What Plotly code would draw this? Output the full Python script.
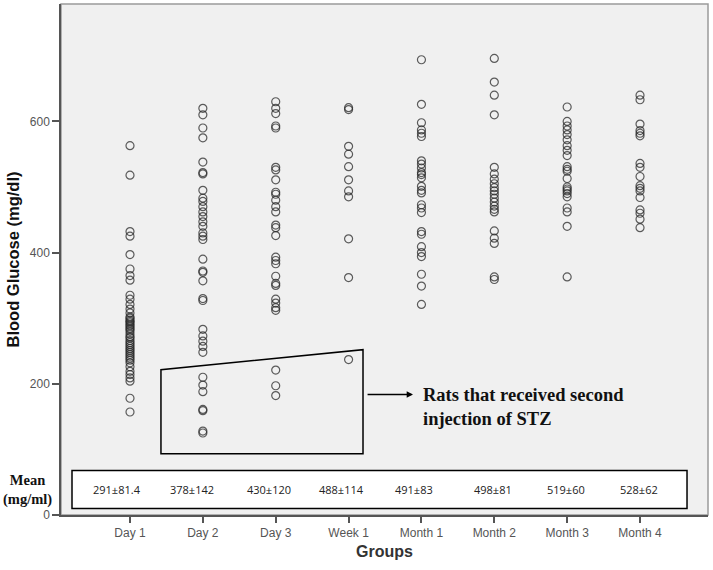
import plotly.graph_objects as go

GROUPS = ["Day 1", "Day 2", "Day 3", "Week 1", "Month 1", "Month 2", "Month 3", "Month 4"]

DAY_1 = [563, 518, 432, 425, 397, 375, 365, 358,
         335, 329, 321, 314, 308, 302, 297, 293, 288, 283, 276, 270, 263, 257,
         251, 245, 239, 232, 226, 219, 214, 209, 204,
         300, 295, 290, 285, 280, 272, 266, 260, 254, 248, 242, 236,
         178, 157]
DAY_2 = [620, 610, 590, 575, 538, 522, 520, 495, 483, 478, 470, 462, 455, 447,
         440, 430, 425, 420, 390, 372, 370, 357, 330, 327, 283, 273, 265, 257,
         248, 210, 198, 188, 161, 159, 128, 125]
DAY_3 = [630, 620, 612, 593, 590, 530, 526, 511, 492, 489, 480, 470, 462, 442,
         438, 426, 393, 388, 383, 364, 353, 350, 329, 323, 316, 312, 221, 197, 182]
WEEK_1 = [621, 618, 562, 550, 531, 511, 494, 485, 421, 362, 237]
MONTH_1 = [694, 626, 598, 587, 582, 577, 540, 535, 529, 522, 519, 514, 501,
           495, 491, 473, 468, 461, 432, 428, 409, 400, 394, 367, 349, 321]
MONTH_2 = [696, 660, 640, 610, 530, 520, 512, 505, 499, 494, 489, 483, 477,
           471, 466, 462, 433, 422, 414, 363, 359]
MONTH_3 = [622, 600, 593, 587, 580, 572, 563, 556, 548, 531, 527, 524, 513,
           500, 497, 494, 490, 485, 468, 462, 440, 363]
MONTH_4 = [640, 633, 596, 586, 582, 578, 536, 530, 516, 502, 498, 494, 484,
           465, 460, 451, 438]

MEANS = ["291±81.4", "378±142", "430±120", "488±114", "491±83", "498±81", "519±60", "528±62"]

SERIES = [DAY_1, DAY_2, DAY_3, WEEK_1, MONTH_1, MONTH_2, MONTH_3, MONTH_4]

# label nudges inside the mean box (category units)
MEAN_SHIFT = [-0.18, -0.15, -0.09, -0.1, -0.1, -0.02, -0.02, -0.02]

xs, ys = [], []
for g, vals in zip(GROUPS, SERIES):
    xs += [g] * len(vals)
    ys += vals

fig = go.Figure()
fig.add_trace(go.Scatter(
    x=xs, y=ys, mode="markers",
    marker=dict(symbol="circle-open", size=8,
                color="rgba(40,40,40,0.75)", line=dict(width=1.2)),
    hoverinfo="skip",
))

shapes = [
    # outer frame
    dict(type="rect", xref="paper", yref="paper", x0=0, y0=0, x1=1, y1=1,
         line=dict(color="#9a9a9a", width=1.5), layer="below"),
    # box holding the means
    dict(type="rect", xref="x", yref="y", x0=-0.796, x1=7.645, y0=10, y1=68,
         line=dict(color="black", width=1.5), fillcolor="white", layer="above"),
    # outline of the re-injected rats
    dict(type="path", xref="x", yref="y",
         path="M 0.425,93.4 L 0.425,221.5 L 3.198,252 L 3.198,93.4 Z",
         line=dict(color="black", width=1.5)),
]

annotations = []
for i, m in enumerate(MEANS):
    annotations.append(dict(
        x=i + MEAN_SHIFT[i], y=38.6, xref="x", yref="y", text=m, showarrow=False,
        font=dict(family="Open Sans, Lato, sans-serif", size=11, color="#222"),
    ))

annotations.append(dict(
    x=-0.0525, y=38.6, xref="paper", yref="y", xanchor="center", yanchor="middle",
    text="<b>Mean</b><br><b>(mg/ml)</b>", showarrow=False,
    font=dict(family="Liberation Serif, Times New Roman, serif", size=14.5, color="#111"),
))

annotations.append(dict(
    x=3.884, y=183.7, ax=3.24, ay=183.7, xref="x", yref="y", axref="x", ayref="y",
    text="", showarrow=True, arrowhead=2, arrowsize=0.9, arrowwidth=1.4,
    arrowcolor="black", standoff=0, startstandoff=0,
))
annotations.append(dict(
    x=4.0, y=165, xref="x", yref="y", xanchor="left", yanchor="middle", align="left",
    text="<b>Rats that received second<br>injection of STZ</b>", showarrow=False,
    font=dict(family="Liberation Serif, Times New Roman, serif", size=18.5, color="#111"),
))

# axis titles
annotations.append(dict(
    x=-0.0757, y=0.5, xref="paper", yref="paper", xanchor="center", yanchor="middle",
    textangle=-90, showarrow=False,
    text="<b>Blood Glucose (mg/dl)</b>",
    font=dict(family="Liberation Sans, Arial, sans-serif", size=16.5, color="#111"),
))
annotations.append(dict(
    x=0.5, y=-0.0705, xref="paper", yref="paper", xanchor="center", yanchor="middle",
    showarrow=False, text="<b>Groups</b>",
    font=dict(family="Liberation Sans, Arial, sans-serif", size=16, color="#333"),
))

fig.update_layout(
    width=713, height=570,
    margin=dict(l=61, r=5, t=4, b=55),
    paper_bgcolor="white",
    plot_bgcolor="#f0f0f0",
    showlegend=False,
    font=dict(family="Liberation Sans, Arial, sans-serif", color="#555", size=12),
    shapes=shapes,
    annotations=annotations,
    xaxis=dict(
        type="category", categoryorder="array", categoryarray=GROUPS,
        range=[-0.947, 7.933], showgrid=False, zeroline=False, automargin=False,
        showline=True, linecolor="#555", linewidth=1.5,
        ticks="outside", ticklen=6, tickwidth=1.5, tickcolor="#555",
        tickfont=dict(size=12, color="#555"),
    ),
    yaxis=dict(
        range=[0, 779], tickvals=[0, 200, 400, 600], showgrid=False, zeroline=False,
        automargin=False,
        showline=True, linecolor="#555", linewidth=1.5,
        ticks="outside", ticklen=7, tickwidth=1.5, tickcolor="#555",
        tickfont=dict(size=12, color="#555"),
    ),
)

# the page's default body margin would shift the figure by 8px
fig.write_html("out.html", config={"displayModeBar": False},
               post_script="document.body.style.margin='0';")
